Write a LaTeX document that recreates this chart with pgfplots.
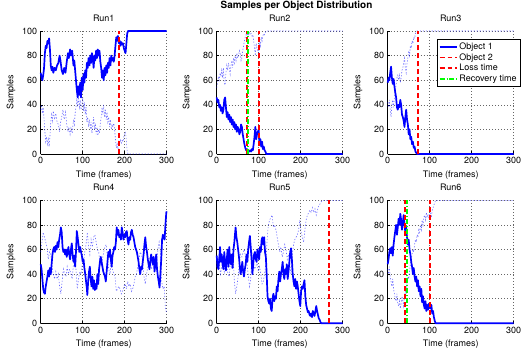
\documentclass[border=0pt]{standalone}
\usepackage{pgfplots}
\pgfplotsset{compat=1.18}
\usepackage{fontspec}
\setmainfont{TeX Gyre Heros}
\definecolor{mgreen}{rgb}{0,1,0}
\pgfplotsset{
  runax/.style={
    scale only axis, width=126bp, height=123bp,
    xmin=0, xmax=300, ymin=0, ymax=100,
    xtick={0,100,200,300}, ytick={0,20,40,60,80,100},
    axis x line*=bottom, axis y line*=left,
    axis line style={black, line width=0.7pt, -},
    tick align=inside, major tick length=2.5bp, tick style={black, line width=0.5pt},
    grid=major, grid style={black!60, line width=0.5pt, dash pattern=on 0.6pt off 2.4pt},
    xlabel={Time (frames)}, ylabel={Samples},
    tick label style={font=\fontsize{9}{10}\selectfont},
    label style={font=\fontsize{9}{10}\selectfont},
    title style={font=\fontsize{9}{10}\selectfont},
    /pgf/number format/assume math mode=true,
    clip=false,
    anchor=south west,
  },
  o1/.style={blue, line width=1.7pt, line join=round, forget plot},
  o2/.style={blue, line width=0.6pt, dash pattern=on 1.2pt off 1.8pt, opacity=0.6, forget plot},
  loss/.style={red, line width=1.8pt, dash pattern=on 5pt off 3pt, forget plot},
  rec/.style={mgreen, line width=1.8pt, dash pattern=on 5pt off 2pt on 1pt off 2pt, forget plot},
}
\begin{document}
\begin{tikzpicture}
\useasboundingbox (0bp,0bp) rectangle (524bp,354bp);
\node[font=\bfseries\fontsize{10}{12}\selectfont] at (296.5bp,348bp) {Samples per Object Distribution};

% Run1
\begin{axis}[runax, at={(40.7bp,200bp)}, title={Run1}]
\addplot[o2] coordinates {(0,36) (2,40) (4,33) (6,38) (8,28) (10,18) (12,10) (14,14) (16,8) (18,12) (20,6) (22,14) (24,26) (26,32) (28,27) (30,35) (33,28) (36,33) (39,26) (42,24) (45,18) (47,25) (50,30) (53,36) (56,28) (59,34) (62,24) (65,18) (67,22) (70,16) (72,21) (75,17) (78,28) (80,24) (82,33) (84,38) (86,44) (88,40) (90,45) (92,38) (94,44) (96,36) (98,40) (100,46) (102,35) (104,42) (106,32) (108,38) (110,26) (112,30) (114,22) (116,28) (118,20) (120,26) (122,17) (124,23) (126,30) (128,20) (130,25) (132,16) (134,22) (136,15) (138,20) (140,17) (142,25) (144,30) (146,38) (148,32) (150,40) (152,30) (154,36) (156,28) (158,34) (160,26) (162,30) (164,22) (166,28) (168,20) (170,24) (172,22) (174,25) (176,20) (178,12) (180,5) (182,8) (184,4) (186,10) (188,8) (190,12) (192,9) (194,11) (196,10) (198,14) (200,16) (202,18) (204,10) (206,2) (208,0) (300,0)};
\addplot[o1] coordinates {(0,66) (2,62) (4,60) (6,64) (8,70) (10,82) (12,88) (14,86) (16,92) (18,90) (20,94) (22,85) (24,72) (26,68) (28,71) (30,66) (33,70) (36,68) (39,72) (42,74) (45,80) (47,76) (50,68) (53,65) (56,70) (59,66) (62,75) (65,82) (67,78) (70,85) (72,80) (75,84) (78,72) (80,76) (82,68) (84,60) (86,52) (88,46) (90,55) (92,48) (94,58) (96,46) (98,62) (100,52) (102,65) (104,58) (106,68) (108,62) (110,74) (112,70) (114,78) (116,72) (118,80) (120,74) (122,82) (124,78) (126,70) (128,80) (130,76) (132,84) (134,78) (136,85) (138,80) (140,84) (142,75) (144,70) (146,62) (148,68) (150,60) (152,70) (154,64) (156,72) (158,66) (160,74) (162,70) (164,78) (166,72) (168,80) (170,76) (172,78) (174,75) (176,80) (178,88) (180,95) (182,92) (184,96) (186,90) (188,92) (190,88) (192,91) (194,89) (196,90) (198,86) (200,84) (202,82) (204,90) (206,98) (208,100) (300,100)};
\addplot[loss] coordinates {(186,0) (186,100)};
\end{axis}

% Run2
\begin{axis}[runax, at={(216.7bp,200bp)}, title={Run2}]
\addplot[o2] coordinates {(0,54) (2,58) (4,62) (6,60) (8,66) (10,63) (12,68) (14,62) (16,70) (18,58) (20,56) (22,66) (24,72) (26,68) (28,74) (30,70) (32,65) (34,72) (36,76) (38,70) (40,78) (42,74) (44,80) (46,76) (48,82) (50,78) (52,80) (54,84) (56,82) (58,76) (60,78) (62,84) (64,88) (66,92) (68,95) (70,97) (72,96) (74,98) (76,97) (78,99) (80,97) (82,98) (84,96) (86,97) (88,92) (90,86) (92,80) (94,90) (96,86) (98,84) (100,82) (102,92) (104,88) (106,95) (108,92) (110,96) (112,98) (114,97) (116,99) (118,100) (300,100)};
\addplot[o1] coordinates {(0,46) (2,42) (4,44) (6,38) (8,40) (10,35) (12,38) (14,33) (16,36) (18,44) (20,46) (22,38) (24,30) (26,34) (28,28) (30,32) (32,26) (34,30) (36,24) (38,28) (40,22) (42,26) (44,20) (46,24) (48,18) (50,22) (52,20) (54,16) (56,18) (58,24) (60,22) (62,16) (64,12) (66,8) (68,5) (70,3) (72,4) (74,2) (76,3) (78,2) (80,3) (82,2) (84,4) (86,3) (88,8) (90,14) (92,22) (94,12) (96,16) (98,18) (100,20) (102,8) (104,12) (106,6) (108,10) (110,4) (112,6) (114,3) (116,2) (118,0) (300,0)};
\addplot[loss] coordinates {(72,0) (72,100)};
\addplot[rec] coordinates {(74,0) (74,100)};
\addplot[loss] coordinates {(100,0) (100,100)};
\end{axis}

% Run3
\begin{axis}[runax, at={(387.7bp,200bp)}, title={Run3},
  legend style={at={(0.39,0.935)}, anchor=north west, draw=black, fill=white, line width=0.6pt,
    font=\fontsize{9}{10}\selectfont, row sep=-1.5pt, inner sep=1.5pt},
  legend cell align=left]
\addlegendimage{blue, line width=1.7pt}
\addlegendentry{Object 1}
\addlegendimage{red, line width=1.8pt, dash pattern=on 5pt off 3pt}
\addlegendentry{Object 2}
\addlegendimage{red, line width=1.8pt, dash pattern=on 5pt off 3pt}
\addlegendentry{Loss time}
\addlegendimage{mgreen, line width=1.8pt, dash pattern=on 5pt off 2pt on 1pt off 2pt}
\addlegendentry{Recovery time}
\addplot[o2] coordinates {(0,42) (2,38) (4,44) (6,36) (8,30) (10,40) (12,44) (14,38) (16,46) (18,52) (20,56) (22,62) (24,64) (26,60) (28,64) (30,58) (32,62) (34,68) (36,70) (38,74) (40,78) (42,70) (44,66) (46,74) (48,78) (50,84) (52,80) (54,88) (56,86) (58,92) (60,90) (62,95) (64,94) (66,98) (68,99) (70,100) (300,100)};
\addplot[o1] coordinates {(0,58) (2,62) (4,60) (6,66) (8,71) (10,62) (12,57) (14,61) (16,55) (18,50) (20,46) (22,38) (24,36) (26,40) (28,38) (30,44) (32,40) (34,32) (36,30) (38,27) (40,22) (42,30) (44,36) (46,28) (48,24) (50,16) (52,20) (54,12) (56,14) (58,8) (60,10) (62,5) (64,6) (66,2) (68,1) (70,0) (300,0)};
\addplot[loss] coordinates {(73,0) (73,100)};
\end{axis}

% Run4
\begin{axis}[runax, at={(40.7bp,30.7bp)}, title={Run4}]
\addplot[o2] coordinates {(0,58) (3,66) (6,74) (9,70) (12,66) (15,62) (18,52) (21,58) (24,56) (27,46) (30,40) (33,36) (36,42) (39,36) (42,40) (45,30) (48,24) (51,34) (54,44) (57,40) (60,38) (63,46) (66,40) (69,44) (72,40) (75,36) (78,48) (81,50) (84,44) (87,28) (90,36) (93,42) (96,40) (99,48) (102,50) (105,58) (108,64) (111,74) (114,62) (117,56) (120,68) (123,62) (126,70) (129,72) (132,66) (135,60) (138,58) (141,50) (144,46) (147,52) (150,58) (153,62) (156,64) (159,52) (162,44) (165,40) (168,50) (171,44) (174,40) (177,38) (180,26) (183,28) (186,30) (189,28) (192,24) (195,26) (198,30) (201,32) (204,28) (207,34) (210,30) (213,32) (216,26) (219,28) (222,32) (225,38) (228,40) (231,46) (234,52) (237,58) (240,56) (243,50) (246,38) (249,32) (252,40) (255,46) (258,54) (261,48) (264,44) (267,50) (270,52) (273,50) (276,46) (279,60) (282,66) (285,58) (288,34) (291,28) (294,30) (297,12) (300,8)};
\addplot[o1] coordinates {(0,48) (2,44) (4,36) (6,28) (8,25) (10,24) (12,30) (14,34) (16,38) (18,43) (20,38) (22,45) (24,40) (26,48) (28,56) (30,60) (32,62) (34,58) (36,63) (38,60) (40,66) (42,62) (44,68) (46,72) (48,78) (50,74) (52,62) (54,58) (56,60) (58,56) (60,60) (62,54) (64,58) (66,62) (68,56) (70,52) (72,60) (74,65) (76,56) (78,50) (80,55) (82,46) (84,58) (86,75) (88,70) (90,64) (92,58) (94,62) (96,58) (98,55) (100,50) (102,52) (104,45) (106,40) (108,34) (110,28) (111,23) (113,34) (115,42) (117,46) (119,36) (121,30) (123,38) (125,28) (127,35) (129,27) (131,32) (133,28) (135,40) (137,32) (139,44) (141,50) (143,54) (145,50) (147,46) (149,42) (151,40) (153,38) (155,34) (157,42) (159,50) (161,58) (163,54) (165,60) (167,52) (169,46) (171,55) (173,58) (175,62) (177,60) (179,66) (181,78) (183,72) (185,76) (187,70) (189,72) (191,68) (193,78) (195,74) (197,68) (199,72) (201,70) (203,74) (205,75) (207,68) (209,64) (211,70) (213,68) (215,74) (217,76) (219,72) (221,70) (223,66) (225,62) (227,60) (229,58) (231,54) (233,50) (235,44) (237,40) (239,46) (241,44) (243,50) (245,56) (247,64) (249,70) (251,62) (253,58) (255,52) (257,48) (259,44) (261,50) (263,56) (265,52) (267,48) (269,54) (271,42) (273,48) (275,56) (277,44) (279,38) (281,34) (283,29) (285,40) (287,52) (289,68) (291,72) (293,70) (295,68) (297,80) (299,90) (300,91)};
\end{axis}

% Run5
\begin{axis}[runax, at={(216.7bp,30.7bp)}, title={Run5}]
\addplot[o2] coordinates {(0,46) (3,54) (6,48) (9,40) (12,46) (15,52) (18,42) (21,50) (24,46) (27,40) (30,38) (33,52) (36,44) (39,56) (42,34) (45,24) (48,30) (51,38) (54,50) (57,56) (60,54) (63,58) (66,60) (69,52) (72,48) (75,40) (78,30) (81,36) (84,58) (87,50) (90,44) (93,46) (96,50) (99,42) (102,46) (105,40) (108,32) (111,34) (114,40) (117,48) (120,68) (123,80) (126,84) (129,86) (132,88) (135,78) (138,80) (141,76) (144,70) (147,64) (150,58) (153,62) (156,54) (159,58) (162,64) (165,60) (168,52) (171,56) (174,48) (177,40) (180,56) (183,64) (186,68) (189,70) (192,72) (195,76) (198,84) (201,74) (204,70) (207,66) (210,76) (213,84) (216,88) (219,90) (222,92) (225,90) (228,94) (231,90) (234,93) (237,88) (240,92) (243,96) (246,97) (249,99) (252,100) (300,100)};
\addplot[o1] coordinates {(0,55) (2,46) (4,44) (6,52) (8,62) (10,50) (12,56) (14,48) (16,44) (18,58) (20,50) (22,43) (24,52) (26,60) (28,46) (30,62) (32,50) (34,48) (36,56) (38,45) (40,60) (42,66) (44,74) (45,78) (47,70) (49,66) (51,60) (53,54) (55,46) (57,40) (59,44) (61,50) (63,42) (65,38) (67,44) (69,48) (71,56) (73,50) (75,60) (77,66) (79,71) (81,62) (83,52) (85,40) (87,48) (89,56) (91,58) (93,52) (95,50) (97,60) (99,56) (101,52) (103,62) (105,58) (107,68) (109,70) (111,64) (113,70) (115,58) (117,54) (119,40) (121,22) (123,18) (125,16) (127,20) (129,12) (131,10) (133,20) (135,24) (137,18) (139,22) (141,20) (143,30) (145,26) (147,36) (149,42) (151,34) (153,40) (155,44) (157,50) (159,40) (161,36) (163,44) (165,40) (167,48) (169,36) (171,42) (173,50) (175,58) (177,61) (179,52) (181,40) (183,34) (185,30) (187,36) (189,28) (191,34) (193,30) (195,24) (197,18) (199,14) (201,26) (203,30) (205,28) (207,32) (209,35) (211,22) (213,15) (215,12) (217,9) (219,10) (221,7) (223,6) (225,8) (227,5) (229,10) (231,8) (233,6) (235,10) (237,14) (239,10) (241,7) (243,4) (245,3) (247,1) (249,0) (300,0)};
\addplot[loss] coordinates {(267,0) (267,100)};
\end{axis}

% Run6
\begin{axis}[runax, at={(387.7bp,30.7bp)}, title={Run6}]
\addplot[o2] coordinates {(0,44) (2,40) (4,46) (6,38) (8,34) (10,30) (12,36) (14,28) (16,24) (18,20) (20,18) (22,24) (24,16) (26,14) (28,18) (30,12) (32,16) (34,22) (36,18) (38,14) (40,22) (42,26) (44,24) (46,32) (48,38) (50,36) (52,42) (54,48) (56,52) (58,56) (60,60) (62,58) (64,64) (66,68) (68,66) (70,72) (72,70) (74,76) (76,74) (78,80) (80,76) (82,84) (84,80) (86,86) (88,88) (90,84) (92,90) (94,86) (96,88) (98,86) (100,88) (102,90) (104,86) (106,92) (108,94) (110,96) (112,98) (114,100) (300,100)};
\addplot[o1] coordinates {(0,48) (2,52) (4,58) (6,61) (8,57) (10,62) (12,55) (14,64) (16,70) (18,75) (20,80) (22,72) (24,78) (26,85) (28,80) (30,89) (32,84) (34,76) (36,82) (38,88) (40,80) (42,74) (44,78) (46,70) (48,64) (50,68) (52,60) (54,56) (56,50) (58,46) (60,40) (62,45) (64,38) (66,34) (68,38) (70,30) (72,35) (74,26) (76,30) (78,22) (80,28) (82,17) (84,22) (86,15) (88,12) (90,18) (92,10) (94,15) (96,11) (98,16) (100,14) (102,12) (104,15) (106,8) (108,10) (110,5) (112,2) (114,0) (300,0)};
\addplot[loss] coordinates {(41,0) (41,100)};
\addplot[rec] coordinates {(46,0) (46,100)};
\addplot[loss] coordinates {(101,0) (101,100)};
\end{axis}
\end{tikzpicture}
\end{document}
